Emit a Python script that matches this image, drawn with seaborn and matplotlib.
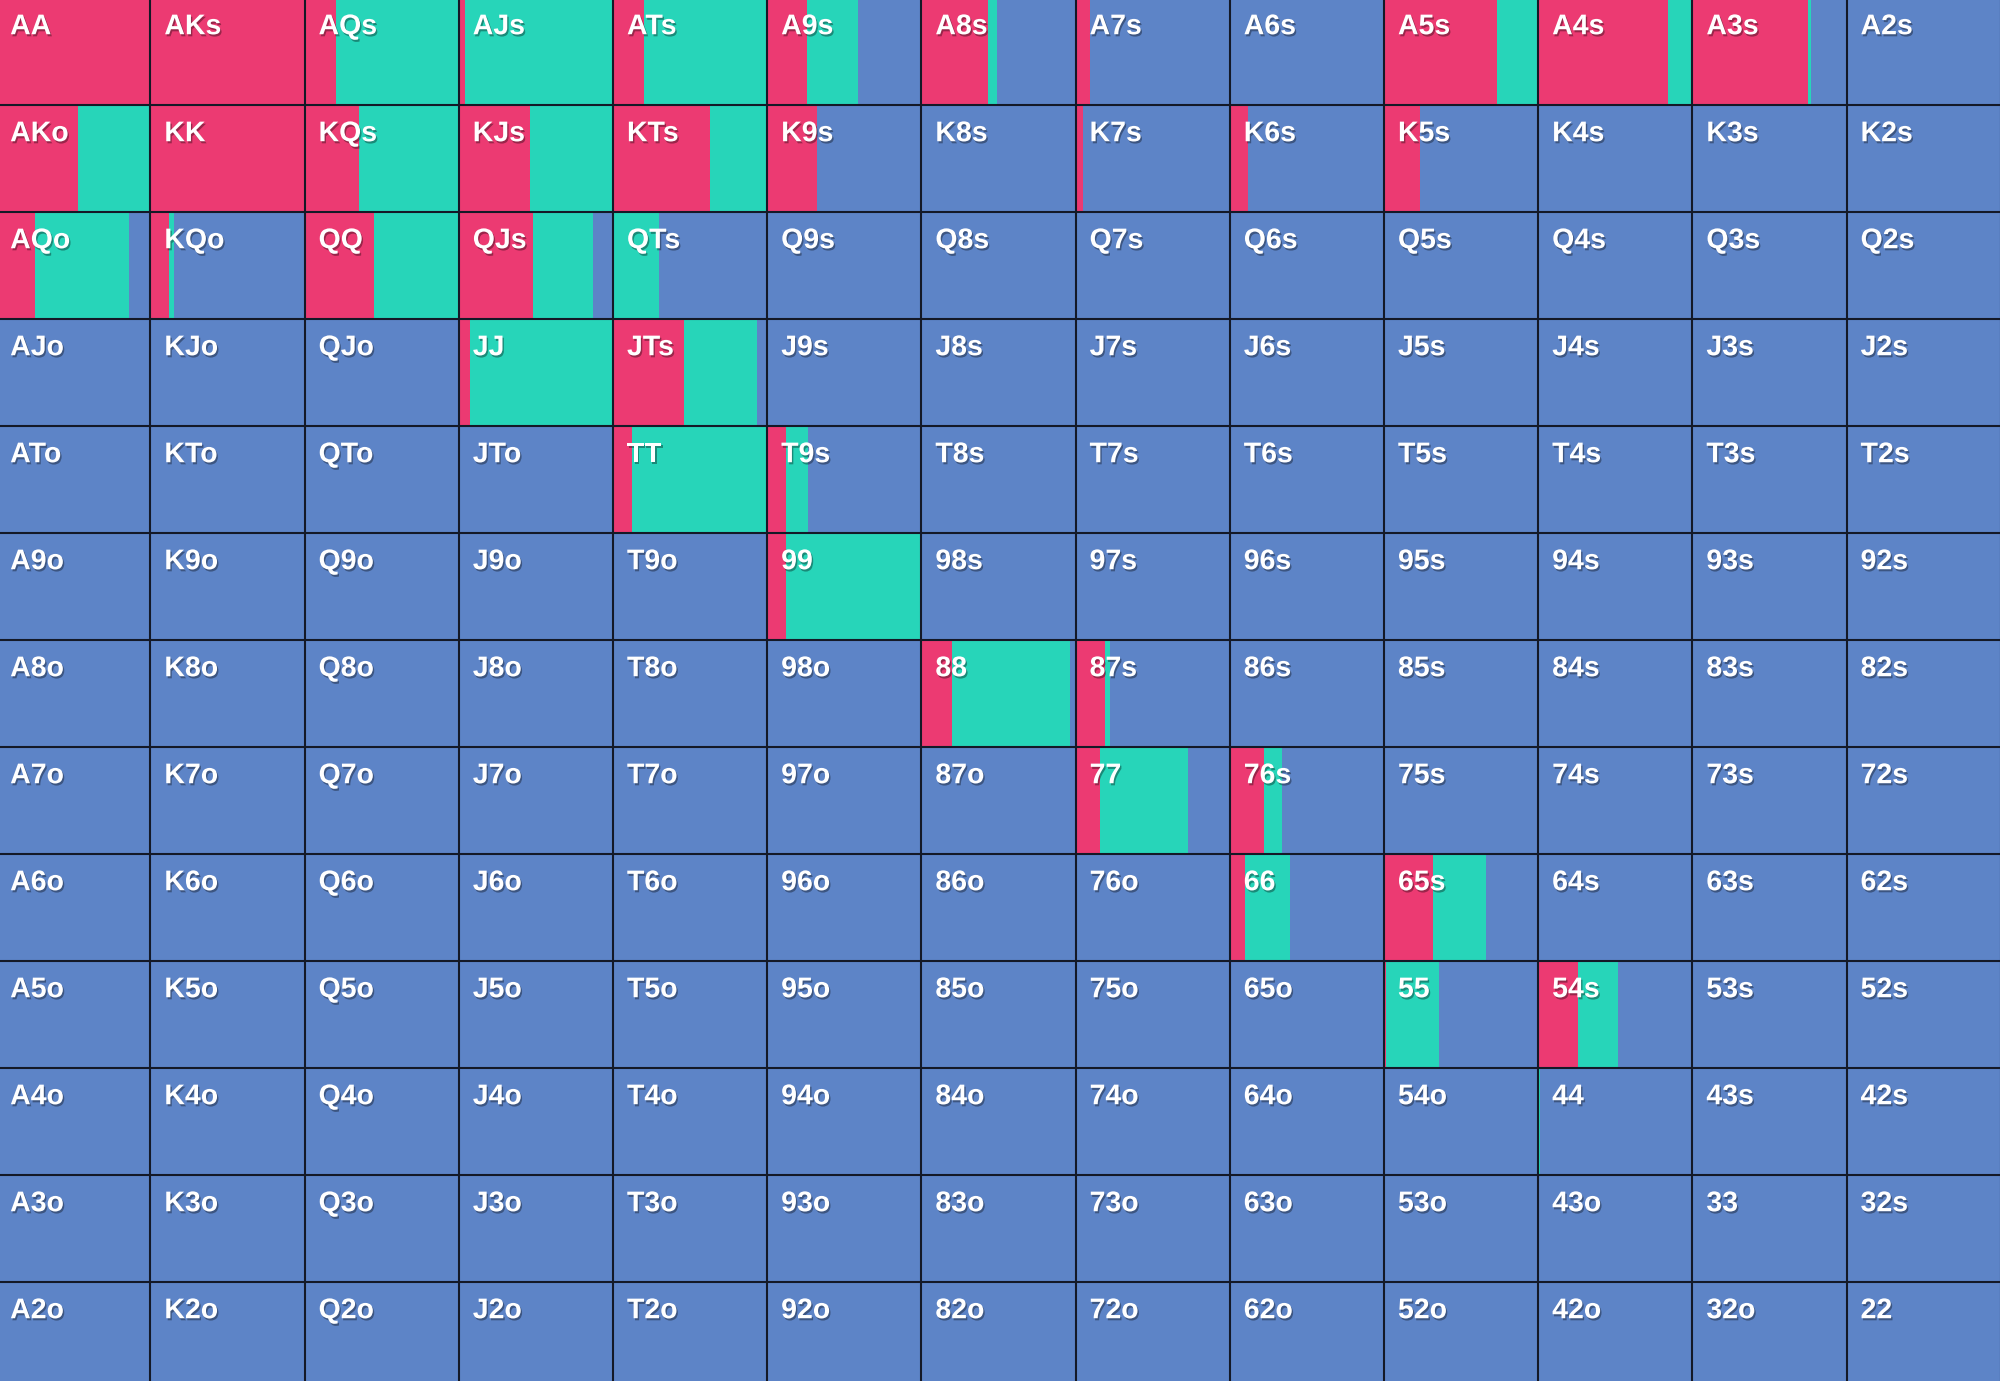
import matplotlib
matplotlib.use("Agg")
import matplotlib.pyplot as plt
import matplotlib.patheffects as pe
from matplotlib.colors import ListedColormap
import numpy as np
import pandas as pd
import seaborn as sns

RANKS = list("AKQJT98765432")

# доля рейза в каждой руке (остальное: колл, потом фолд)
RAISE = {
    "AA": 1.0, "AKs": 1.0, "AQs": 0.20, "AJs": 0.04, "ATs": 0.20, "A9s": 0.26, "A8s": 0.43,
    "A7s": 0.095, "A5s": 0.73, "A4s": 0.84, "A3s": 0.75, "A2s": 0.01,
    "AKo": 0.53, "KK": 1.0, "KQs": 0.35, "KJs": 0.46, "KTs": 0.63, "K9s": 0.32,
    "K7s": 0.05, "K6s": 0.12, "K5s": 0.23,
    "AQo": 0.25, "KQo": 0.12, "QQ": 0.45, "QJs": 0.48,
    "JJ": 0.07, "JTs": 0.46,
    "TT": 0.12, "T9s": 0.12,
    "99": 0.12,
    "88": 0.20, "87s": 0.19,
    "77": 0.16, "76s": 0.22,
    "66": 0.10, "65s": 0.32,
    "55": 0.015, "54s": 0.26,
}
CALL = {
    "AQs": 0.80, "AJs": 0.96, "ATs": 0.80, "A9s": 0.33, "A8s": 0.06,
    "A5s": 0.27, "A4s": 0.16, "A3s": 0.02,
    "AKo": 0.47, "KQs": 0.65, "KJs": 0.54, "KTs": 0.37,
    "AQo": 0.61, "KQo": 0.03, "QQ": 0.55, "QJs": 0.39, "QTs": 0.30,
    "JJ": 0.93, "JTs": 0.47,
    "TT": 0.88, "T9s": 0.145,
    "99": 0.88,
    "88": 0.76, "87s": 0.03,
    "77": 0.57, "76s": 0.12,
    "66": 0.29, "65s": 0.34,
    "55": 0.34, "54s": 0.26,
    "44": 0.01,
}

RED = "#EC3A72"
GREEN = "#27D5B9"
BLUE = "#5D84C7"
LINE = "#141927"


def hand_name(i, j):
    if i == j:
        return RANKS[i] * 2
    if i < j:
        return RANKS[i] + RANKS[j] + "s"
    return RANKS[j] + RANKS[i] + "o"


rows = []
for i in range(13):
    for j in range(13):
        h = hand_name(i, j)
        rows.append({"hand": h, "row": i, "col": j,
                     "raise": RAISE.get(h, 0.0), "call": CALL.get(h, 0.0)})
df = pd.DataFrame(rows)

sns.set_theme(style="white")
plt.rcParams["font.family"] = ["Liberation Sans", "DejaVu Sans"]

fig = plt.figure(figsize=(20, 13.81), dpi=100)
ax = fig.add_axes([0, 0, 1, 1])

# фон: все ячейки синие (фолд)
grid = np.zeros((13, 13))
sns.heatmap(grid, cmap=ListedColormap([BLUE]), cbar=False, ax=ax,
            xticklabels=False, yticklabels=False)

# рейз и колл — горизонтальные доли внутри ячейки
ax.barh(df["row"], df["raise"], left=df["col"], height=1, align="edge",
        color=RED, linewidth=0, zorder=2)
ax.barh(df["row"], df["call"], left=df["col"] + df["raise"], height=1, align="edge",
        color=GREEN, linewidth=0, zorder=2)

ax.vlines(np.arange(14), 0, 13, color=LINE, linewidth=1.5, zorder=3)
ax.hlines(np.arange(14), 0, 13, color=LINE, linewidth=1.5, zorder=3)

shadow = [pe.withSimplePatchShadow(offset=(1, -1.5), shadow_rgbFace="black", alpha=0.35)]
for _, r in df.iterrows():
    ax.text(r["col"] + 0.09, r["row"] + 0.155, r["hand"], color="white",
            fontsize=20.5, fontweight="bold", ha="left", va="top",
            path_effects=shadow, zorder=4)

ax.set_xlim(0.024, 0.024 + 2000 / 154.2)
ax.set_ylim(0.022 + 1381 / 107.0, 0.022)
ax.axis("off")

fig.savefig("out.png", dpi=100)
